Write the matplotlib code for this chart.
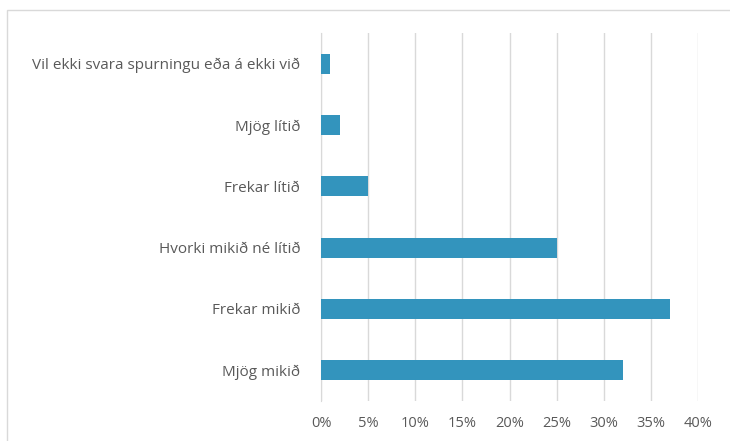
import matplotlib.pyplot as plt
from matplotlib.patches import Rectangle
from matplotlib.ticker import PercentFormatter

# data, bottom to top
categories = [
    "Mjög mikið",
    "Frekar mikið",
    "Hvorki mikið né lítið",
    "Frekar lítið",
    "Mjög lítið",
    "Vil ekki svara spurningu eða á ekki við",
]
values = [32, 37, 25, 5, 2, 1]
xticks = [0, 5, 10, 15, 20, 25, 30, 35, 40]

BAR_COLOR = "#3394bd"
TEXT_COLOR = "#595959"
GRID_COLOR = "#d9d9d9"

plt.rcParams["font.family"] = ["Open Sans", "DejaVu Sans"]

fig = plt.figure(figsize=(7.30, 4.41), dpi=100)
ax = fig.add_axes([321 / 730, 1 - 401 / 441, (698 - 321) / 730, (401 - 33) / 441])

ax.barh(range(len(categories)), values, height=0.33, color=BAR_COLOR, zorder=3)

ax.set_xlim(0, 40)
ax.set_ylim(-0.5, len(categories) - 0.5)
ax.set_xticks(xticks)
ax.xaxis.set_major_formatter(PercentFormatter(decimals=0))
ax.set_yticks(range(len(categories)))
ax.set_yticklabels(categories)

ax.grid(axis="x", color=GRID_COLOR, linewidth=1, zorder=0)
for s in ["top", "right", "bottom"]:
    ax.spines[s].set_visible(False)
ax.spines["left"].set_color(GRID_COLOR)
ax.tick_params(axis="x", length=0, pad=11, labelsize=10.5, labelcolor=TEXT_COLOR)
ax.tick_params(axis="y", length=0, pad=15, labelsize=11, labelcolor=TEXT_COLOR)

# chart frame (cropped at right and bottom)
fig.patches.append(Rectangle((7 / 730, -0.1), 1.2, 1 - 10 / 441 + 0.1,
                             transform=fig.transFigure, fill=False,
                             edgecolor=GRID_COLOR, linewidth=1))

fig.savefig("out.png", dpi=100)
